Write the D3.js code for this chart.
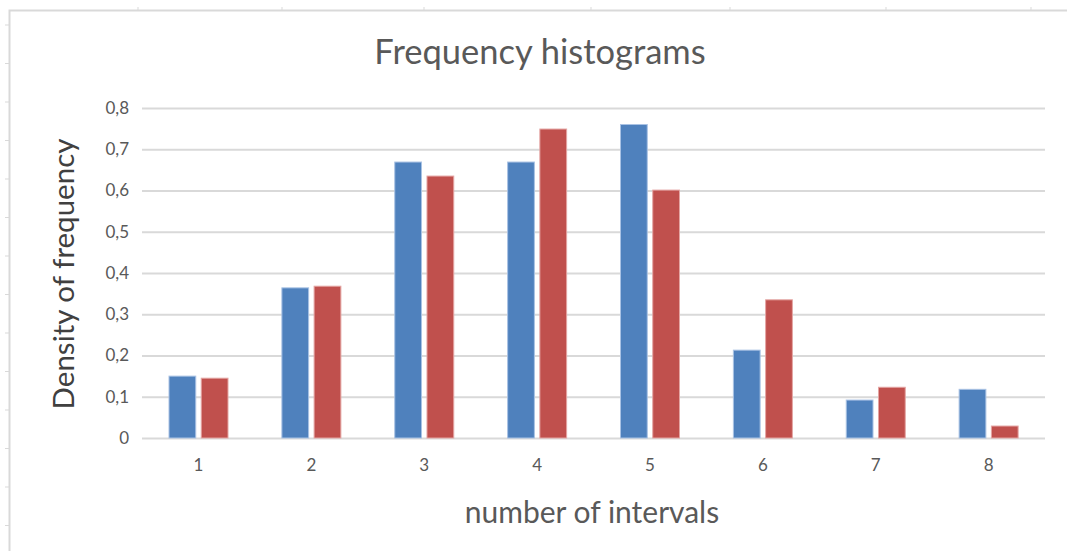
<!DOCTYPE html>
<html>
<head>
<meta charset="utf-8">
<script src="https://cdn.jsdelivr.net/npm/d3@7"></script>
<style>
  body { margin: 0; background: #fff; }
  text { font-family: Lato, "Open Sans", sans-serif; }
</style>
</head>
<body>
<div id="chart"></div>
<script>
// data
var categories = ["1", "2", "3", "4", "5", "6", "7", "8"];
var seriesBlue = [0.150, 0.364, 0.669, 0.669, 0.760, 0.213, 0.092, 0.118];
var seriesRed  = [0.145, 0.368, 0.635, 0.749, 0.601, 0.335, 0.123, 0.029];
var yTicks = [0, 0.1, 0.2, 0.3, 0.4, 0.5, 0.6, 0.7, 0.8];

var W = 1067, H = 551;
var margin = {top: 108, right: 22, bottom: 113, left: 142},
    width = W - margin.left - margin.right,
    height = H - margin.top - margin.bottom;

var svg = d3.select("#chart").append("svg")
    .attr("width", W)
    .attr("height", H);

// sheet border fragments behind the chart
var deco = svg.append("g").attr("stroke", "#d9d9d9").attr("fill", "none");
deco.append("path").attr("d", "M9.5,551V10.5H1067").attr("stroke-width", 2);
d3.range(25, 551, 38.5).forEach(function(y) {
  deco.append("line").attr("x1", 5).attr("x2", 9).attr("y1", y).attr("y2", y);
});
[138, 282, 424, 591, 730, 886, 1031].forEach(function(x) {
  deco.append("line").attr("x1", x).attr("x2", x).attr("y1", 7).attr("y2", 10);
});

var g = svg.append("g")
    .attr("transform", "translate(" + margin.left + "," + margin.top + ")");

var x = d3.scaleBand().domain(categories).range([0, width]).paddingInner(0).paddingOuter(0);
var xs = d3.scaleBand().domain(["blue", "red"]).range([27, 86]).paddingInner(0.17);
var y = d3.scaleLinear().domain([0, 0.8]).range([height, 0]);

var fmt = function(d) { return d === 0 ? "0" : d3.format(".1f")(d).replace(".", ","); };

// gridlines + y labels
var yAxis = g.append("g")
    .call(d3.axisLeft(y).tickValues(yTicks).tickSize(-width).tickFormat(fmt).tickPadding(13));
yAxis.select(".domain").remove();
yAxis.selectAll(".tick line").attr("stroke", "#d9d9d9").attr("stroke-width", 2);
yAxis.selectAll(".tick text").attr("fill", "#595959").style("font-size", "17px");

// x labels
var xAxis = g.append("g")
    .attr("transform", "translate(0," + height + ")")
    .call(d3.axisBottom(x).tickSize(0).tickPadding(21));
xAxis.select(".domain").remove();
xAxis.selectAll(".tick text").attr("fill", "#595959").style("font-size", "17px");

// bars
var data = categories.map(function(c, i) {
  return {cat: c, vals: [{k: "blue", v: seriesBlue[i]}, {k: "red", v: seriesRed[i]}]};
});
var colors = {blue: "#4f81bd", red: "#c0504d"};
var stroke = {blue: "#a9c2e4", red: "#e4a5a3"};

g.selectAll(".grp")
  .data(data)
  .enter().append("g")
  .attr("transform", function(d) { return "translate(" + x(d.cat) + ",0)"; })
  .selectAll("rect")
  .data(function(d) { return d.vals; })
  .enter().append("rect")
  .attr("x", function(d) { return xs(d.k); })
  .attr("width", xs.bandwidth())
  .attr("y", function(d) { return y(d.v); })
  .attr("height", function(d) { return height - y(d.v); })
  .attr("fill", function(d) { return colors[d.k]; })
  .attr("stroke", function(d) { return stroke[d.k]; })
  .attr("stroke-width", 1);

// titles
svg.append("text")
  .attr("x", 540).attr("y", 64)
  .attr("text-anchor", "middle")
  .attr("fill", "#595959")
  .style("font-size", "34.5px")
  .text("Frequency histograms");

svg.append("text")
  .attr("transform", "translate(74,274) rotate(-90)")
  .attr("text-anchor", "middle")
  .attr("fill", "#404040")
  .style("font-size", "29.5px")
  .text("Density of frequency");

svg.append("text")
  .attr("x", 592).attr("y", 523)
  .attr("text-anchor", "middle")
  .attr("fill", "#595959")
  .style("font-size", "30px")
  .text("number of intervals");
</script>
</body>
</html>
